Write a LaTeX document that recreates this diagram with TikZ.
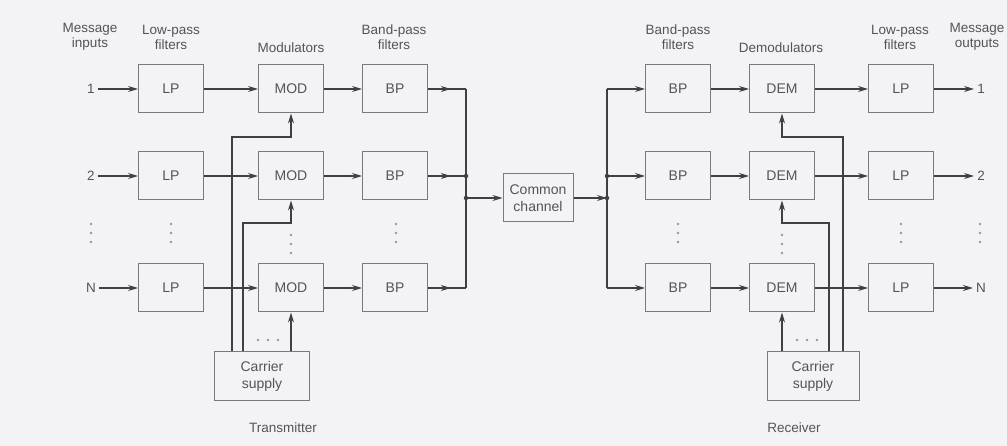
\documentclass[tikz,border=0pt]{standalone}
\usepackage{fontspec}
\setmainfont{Liberation Sans}
\usetikzlibrary{arrows.meta,decorations.markings,positioning}
\definecolor{BgClr}{rgb}{0.953,0.953,0.965}
\definecolor{BoxClr}{rgb}{0.48,0.48,0.48}
\definecolor{LineClr}{rgb}{0.25,0.25,0.25}
\definecolor{TxtClr}{rgb}{0.33,0.33,0.33}

\tikzset{
  blockbox/.style={draw=BoxClr,line width=1pt,minimum width=65pt,minimum height=48pt,
    inner sep=0pt,font=\fontsize{14}{17}\selectfont,text=TxtClr,align=center},
  headtxt/.style={font=\fontsize{13.5}{15}\selectfont,text=TxtClr,align=center,inner sep=0pt},
  wire/.style={draw=LineClr,color=LineClr,line width=1.1pt},
  sig/.style={wire,-{Stealth[length=10pt,width=6pt]}},
  midsig/.style={wire,postaction={decorate},
    decoration={markings,mark=at position 0.6 with {\arrow{Stealth[length=10pt,width=6pt]}}}},
  junc/.style={circle,fill=LineClr,inner sep=0pt,minimum size=4.5pt},
}

\begin{document}
\begin{tikzpicture}[x=1pt,y=-1pt]
\useasboundingbox (0,0) rectangle (1007,446);
\fill[BgClr] (0,0) rectangle (1007,446);

% headings
\node[headtxt] (hin)  at (90,37)  {Message\\inputs};
\node[headtxt] (hlpa) at (171,37) {Low-pass\\filters};
\node[headtxt] (hmod) at (291,48) {Modulators};
\node[headtxt] (hbpa) at (394,37) {Band-pass\\filters};
\node[headtxt] (hbpb) at (678,37) {Band-pass\\filters};
\node[headtxt] (hdem) at (781,48) {Demodulators};
\node[headtxt] (hlpb) at (900,37) {Low-pass\\filters};
\node[headtxt] (hout) at (977,37) {Message\\outputs};

% bus points
\coordinate (busa1) at (466,89);
\coordinate (busa2) at (466,176);
\coordinate (busaC) at (466,198);
\coordinate (busaN) at (466,288);
\coordinate (busb1) at (607,89);
\coordinate (busb2) at (607,176);
\coordinate (busbC) at (607,198);
\coordinate (busbN) at (607,288);

% channel rows
\foreach \r/\y in {1/89,2/176,N/288}{
  \node[headtxt] (in\r)  at (91,\y)  {\r};
  \node[blockbox] (lpa\r) at (171,\y) {LP};
  \node[blockbox] (mod\r) at (291,\y) {MOD};
  \node[blockbox] (bpa\r) at (395,\y) {BP};
  \node[blockbox] (bpb\r) at (678,\y) {BP};
  \node[blockbox] (dem\r) at (782,\y) {DEM};
  \node[blockbox] (lpb\r) at (901,\y) {LP};
  \node[headtxt] (out\r) at (981,\y) {\r};
  \draw[sig,shorten <=3pt] (in\r) -- (lpa\r);
  \draw[sig] (lpa\r) -- (mod\r);
  \draw[sig] (mod\r) -- (bpa\r);
  \draw[midsig] (bpa\r.east) -- (busa\r);
  \draw[sig] (busb\r) -- (bpb\r.west);
  \draw[sig] (bpb\r) -- (dem\r);
  \draw[sig] (dem\r) -- (lpb\r);
  \draw[sig,shorten >=3pt] (lpb\r) -- (out\r);
}

% common channel
\node[blockbox,minimum width=70pt] (chan) at (538,198) {Common\\channel};
\draw[wire] (busa1) -- (busaN);
\draw[wire] (busb1) -- (busbN);
\draw[sig] (busaC) -- (chan);
\draw[sig] (chan) -- (busbC);
\node[junc] at (busa2) {};
\node[junc] at (busaC) {};
\node[junc] at (busb2) {};
\node[junc] at (busbC) {};

% carrier supplies
\node[blockbox,minimum width=95pt] (csa) at (262,376) {Carrier\\supply};
\node[blockbox,minimum width=92pt] (csb) at (813,376) {Carrier\\supply};
\node[headtxt] (tx) at (283,428) {Transmitter};
\node[headtxt] (rx) at (794,428) {Receiver};

\coordinate (tka) at (232,137);
\coordinate (tkb) at (243,223);
\coordinate (rka) at (843,137);
\coordinate (rkb) at (829,223);

\draw[sig] (csa.north -| tka) -- (tka) -- (tka -| mod1) -- (mod1.south);
\draw[sig] (csa.north -| tkb) -- (tkb) -- (tkb -| mod2) -- (mod2.south);
\draw[sig] (csa.north -| modN) -- (modN.south);
\draw[sig] (csb.north -| rka) -- (rka) -- (rka -| dem1) -- (dem1.south);
\draw[sig] (csb.north -| rkb) -- (rkb) -- (rkb -| dem2) -- (dem2.south);
\draw[sig] (csb.north -| demN) -- (demN.south);

% dots
\foreach \x/\y in {91/233,171/233,396/233,678/233,901/233,980/233,291/244,782/244}
  \foreach \d in {-9,0,9}
    \fill[TxtClr!60] (\x,\y+\d) circle (1.3pt);
\foreach \x in {268,807}
  \foreach \d in {-10,0,10}
    \fill[TxtClr!60] (\x+\d,340) circle (1.3pt);

\end{tikzpicture}
\end{document}
